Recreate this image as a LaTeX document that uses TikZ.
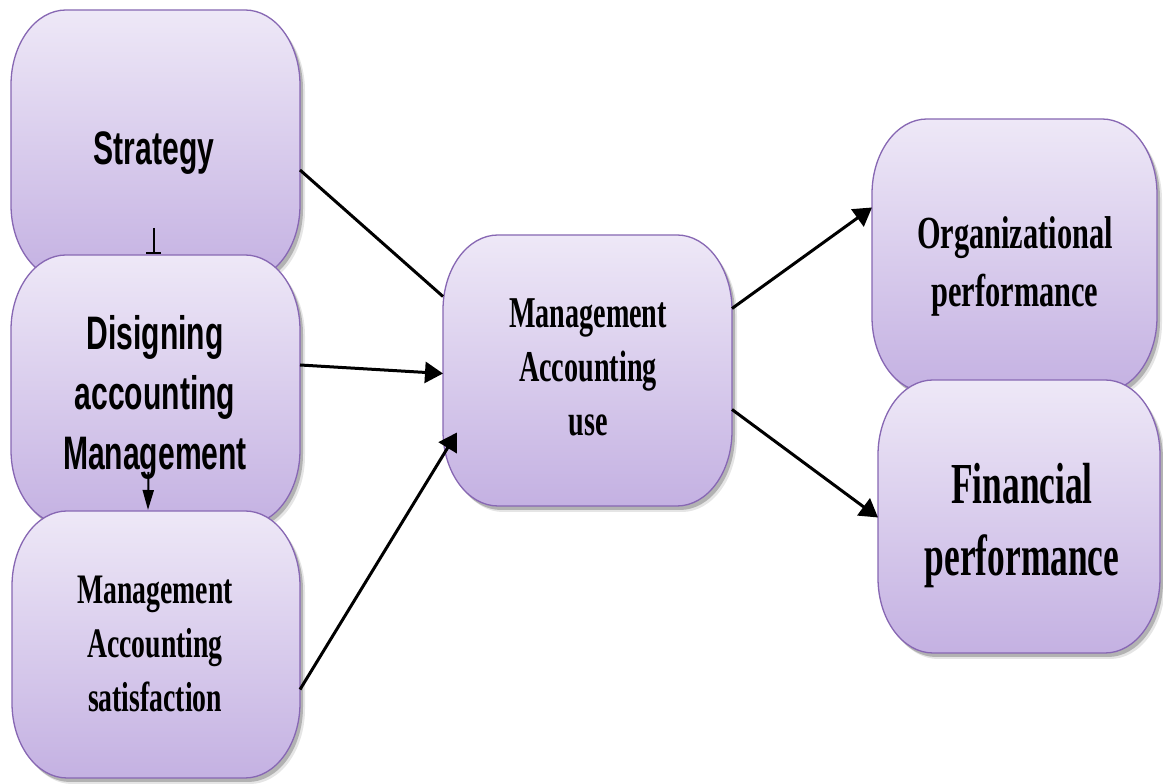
\documentclass[tikz,border=0pt]{standalone}
\usepackage{fontspec}
\setmainfont{Liberation Serif}
\newfontfamily\arialfont{Liberation Sans}
\usetikzlibrary{arrows.meta}

\definecolor{boxtop}{HTML}{EEE8F7}
\definecolor{boxbot}{HTML}{C4B1E2}
\definecolor{boxline}{HTML}{8767B3}

% outline of a soft box with elliptical corners: x1 y1 x2 y2
\newcommand\softoutline[4]{%
  (#1+55,#4) -- (#3-55,#4)
  arc[start angle=90,end angle=0,x radius=55pt,y radius=75pt] -- (#3,#2+75)
  arc[start angle=0,end angle=-90,x radius=55pt,y radius=75pt] -- (#1+55,#2)
  arc[start angle=270,end angle=180,x radius=55pt,y radius=75pt] -- (#1,#4-75)
  arc[start angle=180,end angle=90,x radius=55pt,y radius=75pt] -- cycle}

% shadow, shaded body and an anchor node: name x1 y1 x2 y2
\newcommand\softbox[5]{%
  \fill[black,opacity=0.10,xshift=5pt,yshift=-6pt] \softoutline{#2}{#3}{#4}{#5};
  \fill[black,opacity=0.22,xshift=3pt,yshift=-4pt] \softoutline{#2}{#3}{#4}{#5};
  \path[top color=boxtop,bottom color=boxbot,draw=boxline,line width=1.3pt]
    \softoutline{#2}{#3}{#4}{#5};
  \node[hub,minimum width={#4-#2},minimum height={#5-#3}] (#1)
    at ({(#2+#4)/2},{(#3+#5)/2}) {};}

\tikzset{
  hub/.style={inner sep=0pt,outer sep=0pt,draw=none},
  sanslbl/.style={align=center,inner sep=0pt,text=black,transform shape,
    font=\arialfont\bfseries\fontsize{47pt}{60pt}\selectfont,xscale=0.64},
  seriflbl/.style={align=center,inner sep=0pt,text=black,transform shape},
  conn/.style={line width=3pt,black,-{Triangle[length=18pt,width=21pt]}},
}

\begin{document}
\begin{tikzpicture}[x=1pt,y=1pt]
  \fill[white] (0,0) rectangle (1163,784);
  \useasboundingbox (0,0) rectangle (1163,784);

  % left column, stacked so each box overlaps the one above
  \softbox{S}{11}{504}{300}{774}
  \softbox{D}{11}{259}{300}{529}
  \softbox{M}{12}{6}{300}{273}
  % centre and right column
  \softbox{U}{443}{278}{732}{549}
  \softbox{O}{872}{392}{1157}{665}
  \softbox{F}{878}{131}{1160}{404}

  % labels
  \node[sanslbl] (S-t) at (154,631) {Strategy};
  \node[sanslbl] (D-t) at (155,387) {Disigning\\accounting\\Management};
  \node[seriflbl,xscale=0.66,font=\bfseries\fontsize{42pt}{54pt}\selectfont]
    (M-t) at (155,140) {Management\\Accounting\\satisfaction};
  \node[seriflbl,xscale=0.64,font=\bfseries\fontsize{44pt}{54pt}\selectfont]
    (U-t) at (588,417) {Management\\Accounting\\use};
  \node[seriflbl,xscale=0.66,font=\bfseries\fontsize{46pt}{58pt}\selectfont]
    (O-t) at (1015,518) {Organizational\\performance};
  \node[seriflbl,xscale=0.61,font=\bfseries\fontsize{58pt}{72pt}\selectfont]
    (F-t) at (1022,258) {Financial\\performance};

  % connectors
  \draw[line width=2pt,-{Bar[width=15pt,line width=2pt]}]
    ([xshift=-2pt,yshift=52pt]S.south) -- ([xshift=-2pt,yshift=1pt]D.north);
  \draw[line width=2pt,-{Triangle[length=20pt,width=11pt]}]
    ([xshift=-7pt,yshift=53pt]D.south) -- ([xshift=-8pt,yshift=1pt]M.north);
  \draw[line width=3pt] ([yshift=-25pt]S.east) -- ([yshift=74pt]U.west);
  \draw[conn] ([yshift=25pt]D.east) -- ([yshift=-3pt]U.west);
  \draw[conn] ([yshift=-45pt]M.east) -- ([shift={(14pt,-62pt)}]U.west);
  \draw[conn] ([yshift=62pt]U.east) -- ([yshift=48pt]O.west);
  \draw[conn] ([yshift=-39pt]U.east) -- ([yshift=-1pt]F.west);
\end{tikzpicture}
\end{document}
